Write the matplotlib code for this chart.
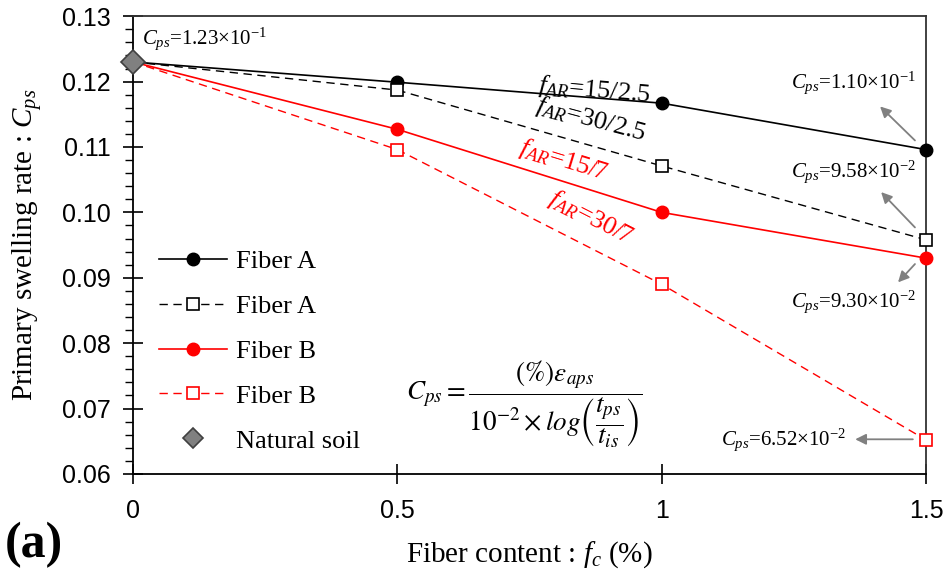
import matplotlib
matplotlib.use('Agg')
import matplotlib.pyplot as plt
from matplotlib.ticker import MultipleLocator, FixedLocator

plt.rcParams['mathtext.fontset'] = 'custom'
plt.rcParams['mathtext.rm'] = 'Liberation Serif'
plt.rcParams['mathtext.it'] = 'Liberation Serif:italic'
plt.rcParams['mathtext.bf'] = 'Liberation Serif:bold'

# data
fiber_content = [0, 0.5, 1, 1.5]
fiberA_15_25 = [0.1230, 0.1199, 0.1167, 0.1096]
fiberA_30_25 = [0.1230, 0.1187, 0.1071, 0.0958]
fiberB_15_7 = [0.1230, 0.1127, 0.1000, 0.0930]
fiberB_30_7 = [0.1230, 0.1096, 0.0890, 0.0652]
natural_x = [0]
natural_y = [0.1230]

serif = 'Liberation Serif'
sans = 'Liberation Sans'

fig = plt.figure(figsize=(9.44, 5.78), dpi=100)
ax = fig.add_axes([0.1409, 0.180, 0.8401, 0.792])

ax.plot(fiber_content, fiberA_15_25, '-o', color='black', lw=1.2, ms=9,
        clip_on=False, zorder=4, label='Fiber A')
ax.plot(fiber_content[1:], fiberA_30_25[1:], '--s', color='black', lw=1.0, ms=8,
        mfc='white', mew=1.2, dashes=(6, 4), clip_on=False, zorder=4, label='Fiber A')
ax.plot(fiber_content[:2], fiberA_30_25[:2], '--', color='black', lw=1.0, dashes=(6, 4))
ax.plot(fiber_content, fiberB_15_7, '-o', color='red', lw=1.2, ms=9,
        clip_on=False, zorder=4, label='Fiber B')
ax.plot(fiber_content[1:], fiberB_30_7[1:], '--s', color='red', lw=1.0, ms=8,
        mfc='white', mew=1.2, dashes=(6, 4), clip_on=False, zorder=4, label='Fiber B')
ax.plot(fiber_content[:2], fiberB_30_7[:2], '--', color='red', lw=1.0, dashes=(6, 4))
ax.plot(natural_x, natural_y, 'D', color='#808080', mec='#404040', ms=12, mew=1.2,
        ls='none', clip_on=False, zorder=6, label='Natural soil')

ax.set_xlim(0, 1.5)
ax.set_ylim(0.06, 0.13)
ax.xaxis.set_major_locator(FixedLocator([0, 0.5, 1, 1.5]))
ax.set_xticklabels(['0', '0.5', '1', '1.5'])
ax.yaxis.set_major_locator(MultipleLocator(0.01))
ax.yaxis.set_minor_locator(MultipleLocator(0.002))
ax.yaxis.set_major_formatter(matplotlib.ticker.FormatStrFormatter('%.2f'))
ax.tick_params(axis='both', which='major', direction='inout', length=14, width=1.2,
               labelsize=18)
ax.tick_params(axis='x', which='major', pad=11)
ax.tick_params(axis='y', which='major', pad=9)
ax.tick_params(axis='y', which='minor', direction='out', length=6, width=1.0)
for lab in ax.get_xticklabels() + ax.get_yticklabels():
    lab.set_fontfamily(sans)
for s in ['left', 'bottom']:
    ax.spines[s].set_linewidth(1.3)
for s in ['top', 'right']:
    ax.spines[s].set_linewidth(1.3)
    ax.spines[s].set_color('#333333')

ax.set_ylabel(r'Primary swelling rate : $C_{ps}$', fontfamily=serif, fontsize=21)
ax.yaxis.set_label_coords(-0.112, 0.5)
ax.set_xlabel(r'Fiber content : $f_c$ (%)', fontfamily=serif, fontsize=21)
ax.xaxis.set_label_coords(0.5, -0.142)

leg = ax.legend(loc='upper left', bbox_to_anchor=(0.019, 0.513), frameon=False,
                prop={'family': serif, 'size': 19}, handlelength=2.6,
                handletextpad=0.35, labelspacing=0.81, borderaxespad=0)
leg.legend_handles[-1].set_markersize(10)

# curve labels
ax.text(0.872, 0.1187, r'$f_{AR}$=15/2.5', fontfamily=serif, fontsize=19, color='black',
        rotation=-5, ha='center', va='center')
ax.text(0.866, 0.1142, r'$f_{AR}$=30/2.5', fontfamily=serif, fontsize=19, color='black',
        rotation=-15, ha='center', va='center')
ax.text(0.815, 0.1080, r'$f_{AR}$=15/7', fontfamily=serif, fontsize=19, color='red',
        rotation=-17, ha='center', va='center')
ax.text(0.866, 0.0992, r'$f_{AR}$=30/7', fontfamily=serif, fontsize=19, color='red',
        rotation=-27, ha='center', va='center')

# value annotations
ax.text(0.017, 0.1266, r'$C_{ps}$=1.23×10$^{-1}$', fontfamily=serif, fontsize=15,
        ha='left', va='center')
arrow = dict(arrowstyle='-|>', color='#808080', lw=1.3, mutation_scale=16,
             shrinkA=0, shrinkB=0)
ax.text(1.481, 0.1199, r'$C_{ps}$=1.10×10$^{-1}$', fontfamily=serif, fontsize=15,
        ha='right', va='center')
ax.annotate('', xy=(1.413, 0.1162), xytext=(1.479, 0.1110), arrowprops=arrow)
ax.text(1.481, 0.1062, r'$C_{ps}$=9.58×10$^{-2}$', fontfamily=serif, fontsize=15,
        ha='right', va='center')
ax.annotate('', xy=(1.415, 0.1031), xytext=(1.479, 0.0977), arrowprops=arrow)
ax.text(1.481, 0.0863, r'$C_{ps}$=9.30×10$^{-2}$', fontfamily=serif, fontsize=15,
        ha='right', va='center')
ax.annotate('', xy=(1.447, 0.0893), xytext=(1.479, 0.0921), arrowprops=arrow)
ax.text(1.349, 0.0653, r'$C_{ps}$=6.52×10$^{-2}$', fontfamily=serif, fontsize=15,
        ha='right', va='center')
ax.annotate('', xy=(1.366, 0.0653), xytext=(1.475, 0.0653), arrowprops=arrow)

# formula
ax.text(0.74, 0.0707,
        r'$C_{ps}=\dfrac{(\%)\varepsilon_{aps}}{10^{-2}\times log\left(\dfrac{t_{ps}}{t_{is}}\right)}$',
        fontsize=19.5, ha='center', va='center', math_fontfamily='stix')

fig.text(0.005, 0.057, '(a)', fontfamily=serif, fontsize=36, fontweight='bold',
         ha='left', va='center')

fig.savefig('out.png', dpi=100)
